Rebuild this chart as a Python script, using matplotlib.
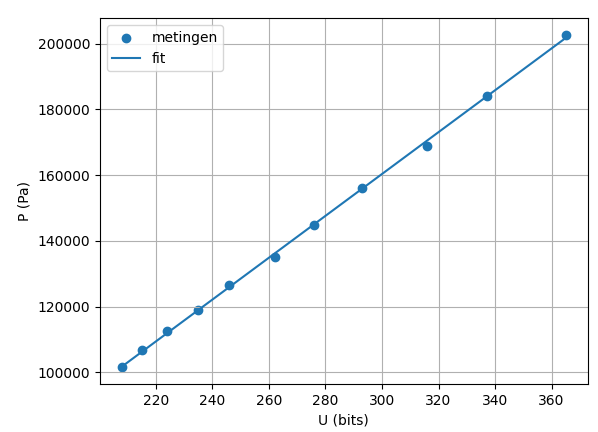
import numpy as np
import matplotlib
matplotlib.use("Agg")
import matplotlib.pyplot as plt

U = [208, 215, 224, 235, 246, 262, 276, 293, 316, 337, 365]
P = [101500, 106800, 112500, 119000, 126500, 135200, 144800, 156000, 169000, 184200, 202700]

a, b = np.polyfit(U, P, 1)
xs = np.array([min(U), max(U)])

fig, ax = plt.subplots(figsize=(5.98, 4.32), dpi=100)
fig.subplots_adjust(left=0.167, right=0.983, top=0.958, bottom=0.111)
ax.scatter(U, P, label="metingen")
ax.plot(xs, a * xs + b, label="fit")
ax.set_xlabel("U (bits)")
ax.set_ylabel("P (Pa)")
ax.grid(True)
ax.legend(loc="upper left")
fig.savefig("out.png", dpi=100)
